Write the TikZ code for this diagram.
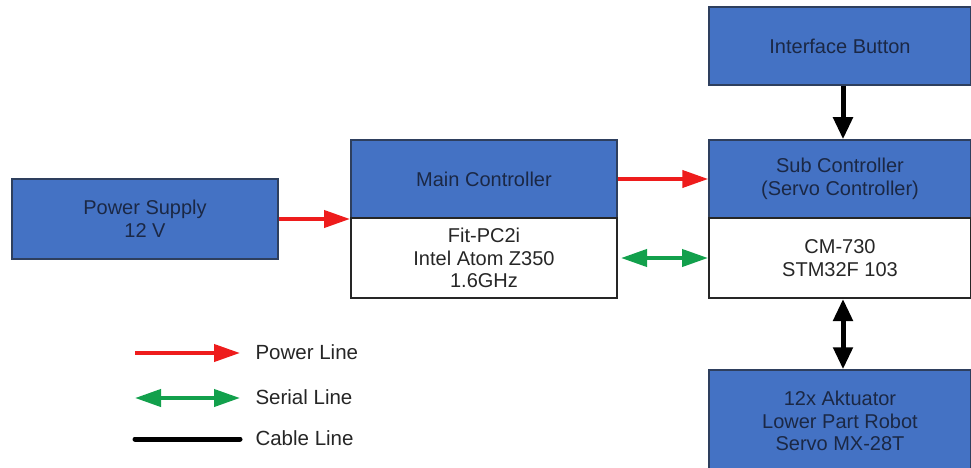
\documentclass[tikz,border=0pt]{standalone}
\usepackage{fontspec}
\setmainfont{Liberation Sans}
\usetikzlibrary{arrows.meta}
\definecolor{boxblue}{HTML}{4472C4}
\definecolor{boxedge}{HTML}{2E3F5E}
\definecolor{bluetext}{HTML}{1B2845}
\definecolor{greytext}{HTML}{262626}
\definecolor{pwred}{HTML}{EE1C1C}
\definecolor{sergreen}{HTML}{12A04C}
\tikzset{
  bluebox/.style={draw=boxedge, line width=1.5pt, fill=boxblue, text=bluetext, align=center, font=\fontsize{20}{22.5}\selectfont},
  whitebox/.style={draw=black!85, line width=2pt, fill=white, text=greytext, align=center, font=\fontsize{20}{22.5}\selectfont},
  powerarrow/.style={draw=pwred, line width=4pt, -{Triangle[length=26pt,width=17pt]}},
  serialarrow/.style={draw=sergreen, line width=4pt, {Triangle[length=26pt,width=17pt]}-{Triangle[length=26pt,width=17pt]}},
  cablearrow/.style={draw=black, line width=5pt, -{Triangle[length=22pt,width=19pt]}},
  cabledouble/.style={draw=black, line width=5pt, {Triangle[length=22pt,width=19pt]}-{Triangle[length=22pt,width=19pt]}},
  legtext/.style={anchor=west, text=greytext, font=\fontsize{20.5}{22}\selectfont},
}
\begin{document}
\begin{tikzpicture}[x=1pt,y=-1pt]
\useasboundingbox[fill=white] (0,0) rectangle (971,468);
% boxes
\node[bluebox, minimum width=266pt, minimum height=80pt] (ps) at (145,219) {Power Supply\\12 V};
\node[bluebox, minimum width=266pt, minimum height=78pt] (mc) at (484,179) {Main Controller};
\node[whitebox, minimum width=266pt, minimum height=80pt] (mcb) at (484,258) {Fit-PC2i\\Intel Atom Z350\\1.6GHz};
\node[bluebox, minimum width=262pt, minimum height=78pt] (ib) at (840,46) {Interface Button};
\node[bluebox, minimum width=262pt, minimum height=78pt] (sc) at (840,179) {Sub Controller\\(Servo Controller)};
\node[whitebox, minimum width=262pt, minimum height=80pt] (scb) at (840,258) {CM-730\\STM32F 103};
\node[bluebox, minimum width=262pt, minimum height=102pt] (ak) at (840,421) {12x Aktuator\\Lower Part Robot\\Servo MX-28T};
% connectors
\draw[powerarrow] (ps.east) -- (ps.east -| mcb.west);
\draw[powerarrow] (mc.east) -- (sc.west);
\draw[serialarrow] ([xshift=3pt]mcb.east) -- (scb.west);
\draw[cablearrow] (ib.south -| 843,0) -- (sc.north -| 843,0);
\draw[cabledouble] (scb.south -| 843,0) -- (ak.north -| 843,0);
% legend
\coordinate (l1a) at (135,353); \coordinate (l1b) at (240,353);
\coordinate (l2a) at (135,398); \coordinate (l2b) at (240,398);
\coordinate (l3a) at (135,439); \coordinate (l3b) at (240,439);
\draw[powerarrow] (l1a) -- (l1b);
\draw[serialarrow] (l2a) -- (l2b);
\draw[draw=black, line width=5pt, line cap=round] (l3a) -- (l3b);
\node[legtext] (t1) at (252,352) {Power Line};
\node[legtext] (t2) at (252,397) {Serial Line};
\node[legtext] (t3) at (252,438) {Cable Line};
\end{tikzpicture}
\end{document}
